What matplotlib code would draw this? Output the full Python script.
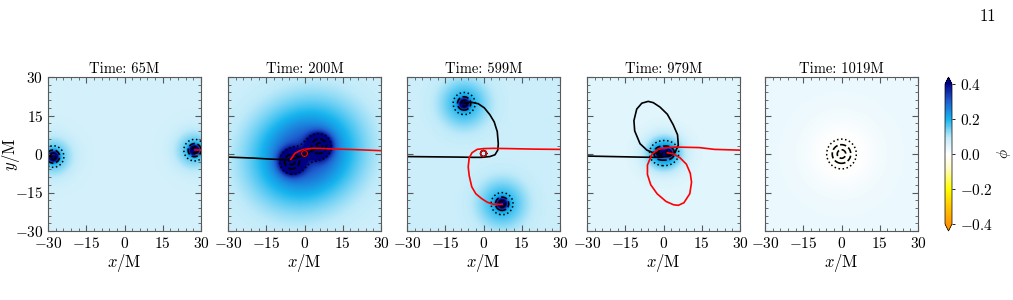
import numpy as np
import matplotlib
matplotlib.use('Agg')
from matplotlib import pyplot as plt
from matplotlib.colors import LinearSegmentedColormap
from matplotlib.ticker import MultipleLocator

plt.rcParams['font.family'] = 'serif'
plt.rcParams['font.serif'] = ['cmr10']
plt.rcParams['mathtext.fontset'] = 'cm'
plt.rcParams['axes.formatter.use_mathtext'] = True
plt.rcParams['font.size'] = 10

# snapshot times
times = [65, 200, 599, 979, 1019]

# black hole (field peak) positions
bh_x = [[-28.0, 27.5], [-5.0, 5.8], [-7.6, 7.3], [-1.5, 2.0], [0.0]]
bh_y = [[-1.0, 1.5], [-3.0, 3.1], [19.7, -19.4], [0.3, 0.4], [0.0]]
# horizon-ish scale of the dotted/dashed contours
bh_m = [[3.9, 3.9], [3.7, 3.7], [3.9, 3.9], [2.6, 2.6], [5.8]]

# scalar field look per panel
background = [0.065, 0.07, 0.075, 0.045, 0.03]
core_amp = [0.6, 0.45, 0.45, 0.4, 0.0]
core_w = [1.3, 3.0, 1.4, 1.1, 1.0]
halo_amp = [0.12, 0.15, 0.13, 0.12, -0.04]
halo_w = [5.0, 13.0, 6.5, 4.5, 10.0]

# punctures tracks (black = BH1, red = BH2)
black_x = [
    [-30, -28.5],
    [-30, -20, -13, -8, -5.5, -3, -1, 1, 3.5, 5.5],
    [-30, -20, -10, -4, -0.7, 2.5, 4.5, 5.6, 5.8, 5.4, 4.2, 2.5, 0.3, -2.1, -5.0, -7.6],
    [-30, -20, -10, -4, -0.7, 2.5, 4.5, 5.8, 5.5, 3.8, 1.5, -1.4, -4.0, -6.0, -8.5, -10.5,
     -11.6, -11.3, -9.2, -6.5, -4.0, -1.5],
    [],
]
black_y = [
    [-0.8, -1.0],
    [-1.2, -1.6, -2.0, -2.2, -2.2, -1.5, -0.6, 0.3, 1.6, 2.6],
    [-1.0, -1.1, -1.2, -1.3, -1.3, -1.0, -0.3, 1.5, 4.0, 8.7, 12.5, 15.3, 18.0, 19.6, 20.2, 19.8],
    [-0.8, -1.0, -1.2, -1.3, -1.2, -0.8, 0.5, 3.5, 7.5, 11.4, 15.5, 18.3, 20.0, 20.5, 19.8, 17.5,
     13.0, 9.0, 4.0, 1.5, 0.5, 0.2],
    [],
]
red_x = [
    [30, 27.5],
    [30, 20, 10, 6, 3, 0, -2, -3.7, -5.4],
    [30, 20, 10, 4, 0, -2.5, -4.5, -5.6, -6.0, -5.6, -4.6, -3.0, -0.7, 1.5, 3.8, 7.3],
    [30, 20, 14, 5, 1, -2, -4.5, -6.3, -6.3, -5.0, -2.5, 1.0, 4.0, 5.8, 8.0, 10.3, 11.0, 10.5,
     9.0, 6.5, 4.0, 1.5],
    [],
]
red_y = [
    [1.5, 1.5],
    [1.3, 1.7, 2.0, 2.2, 2.2, 1.8, 1.2, 0.3, -2.1],
    [1.8, 1.9, 2.1, 2.2, 2.1, 1.8, 0.5, -1.5, -5.0, -8.5, -12.8, -15.5, -17.4, -18.8, -19.6, -19.6],
    [1.5, 1.8, 2.5, 2.7, 2.5, 1.8, 0.0, -4.3, -8.0, -12.0, -15.5, -18.5, -19.8, -20.0, -19.0,
     -15.5, -11.0, -7.5, -4.0, -1.5, 0.0, 0.5],
    [],
]
# small whirl near the centre seen in the 200M and 599M panels
loop_x = [1.2, 0.85, 0.0, -0.85, -1.2, -0.85, 0.0, 0.85, 1.2]
loop_y = [0.2, 1.05, 1.4, 1.05, 0.2, -0.65, -1.0, -0.65, 0.2]
loop_panels = [1, 2]

cmap = LinearSegmentedColormap.from_list('phi', [
    (0.0, '#ff9800'), (0.125, '#ffc800'), (0.25, '#ffff00'), (0.4, '#fffbc8'),
    (0.5, '#ffffff'), (0.62, '#bfeaf9'), (0.75, '#16b4ee'), (0.875, '#1f60d0'),
    (1.0, '#06068c')])
cmap.set_over('#000080')
cmap.set_under('#ff9500')

g = np.linspace(-30, 30, 361)
X, Y = np.meshgrid(g, g)

fig = plt.figure(figsize=(10.13, 3.0), dpi=100)
lefts = [48, 228, 407, 587, 765]
for i, t in enumerate(times):
    ax = fig.add_axes([lefts[i] / 1013, 69 / 300, 153 / 1013, 154 / 300])
    phi = np.full_like(X, background[i])
    q = np.zeros_like(X)
    for bx, by, m in zip(bh_x[i], bh_y[i], bh_m[i]):
        r2 = (X - bx) ** 2 + (Y - by) ** 2
        phi += core_amp[i] * np.exp(-r2 / (2 * core_w[i] ** 2))
        phi += halo_amp[i] * np.exp(-r2 / (2 * halo_w[i] ** 2))
        q += m / np.sqrt(r2 + 1e-6)
    ax.imshow(phi, extent=[-30, 30, -30, 30], origin='lower', cmap=cmap,
              vmin=-0.4, vmax=0.4, interpolation='bilinear', aspect='auto')
    ax.contour(X, Y, q, levels=[1.0], colors='k', linestyles=':', linewidths=1.1)
    ax.contour(X, Y, q, levels=[1.6, 3.5], colors='k', linestyles='--', linewidths=1.2)
    if black_x[i]:
        ax.plot(black_x[i], black_y[i], color='k', lw=1.2)
        ax.plot(red_x[i], red_y[i], color='r', lw=1.2)
    if i in loop_panels:
        ax.plot(loop_x, loop_y, color='k', lw=1.2)
        ax.plot(loop_x, loop_y, color='r', lw=0.8)
    ax.set_xlim(-30, 30)
    ax.set_ylim(-30, 30)
    ax.set_xticks([-30, -15, 0, 15, 30])
    ax.set_yticks([-30, -15, 0, 15, 30])
    ax.xaxis.set_minor_locator(MultipleLocator(3))
    ax.yaxis.set_minor_locator(MultipleLocator(3))
    ax.tick_params(which='both', direction='in', top=True, right=True, color='0.35')
    ax.tick_params(which='major', length=4, labelsize=11)
    ax.tick_params(which='minor', length=2)
    for s in ax.spines.values():
        s.set_color('0.35')
    ax.set_title('Time: %dM' % t, fontsize=10.5, pad=3)
    ax.set_xlabel(r'$x/\mathrm{M}$', fontsize=12, labelpad=1)
    if i == 0:
        ax.set_ylabel(r'$y/\mathrm{M}$', fontsize=12)
        ax.yaxis.set_label_coords(-0.17, 0.5)
    else:
        ax.set_yticklabels([])
    last = ax.images[0]

cax = fig.add_axes([945 / 1013, 69 / 300, 7 / 1013, 154 / 300])
cb = fig.colorbar(last, cax=cax, extend='both', extendfrac=0.05)
cb.set_ticks([-0.4, -0.2, 0.0, 0.2, 0.4])
cb.ax.tick_params(labelsize=11, length=2, width=0.6)
cb.outline.set_linewidth(0.5)
cb.set_label(r'$\phi$', fontsize=11, labelpad=2)

fig.text(0.975, 0.93, '11', fontsize=12, ha='center')

plt.savefig('out.png', dpi=100)
